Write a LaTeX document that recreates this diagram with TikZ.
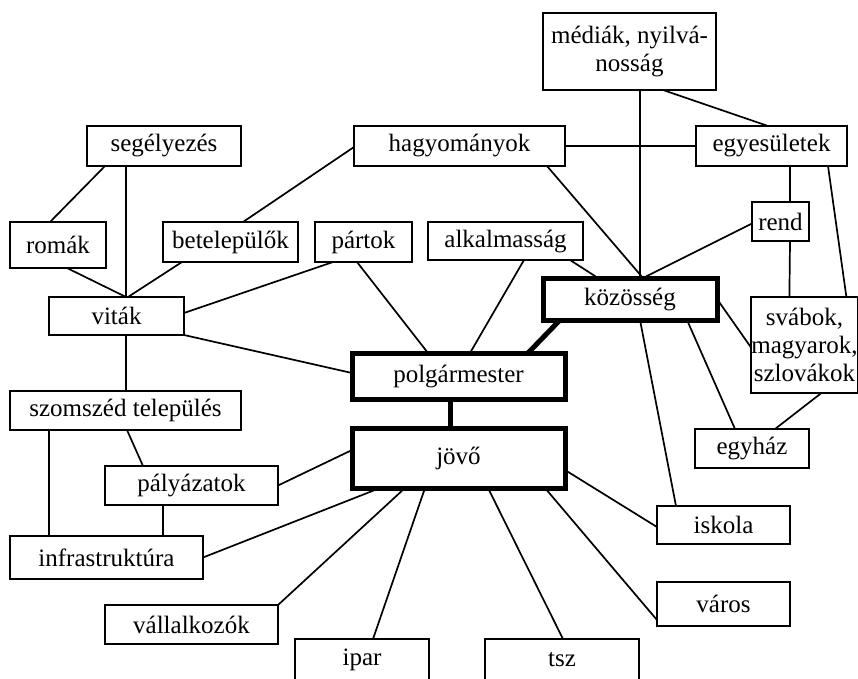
\documentclass[tikz,border=0pt]{standalone}
\usepackage{fontspec}
\setmainfont{Liberation Serif}
\usepackage{tikz}
\usetikzlibrary{positioning}

\begin{document}
\begin{tikzpicture}[x=1pt,y=-1pt]
\tikzstyle{box}=[rectangle,draw=black,line width=2pt,
inner sep=0pt,outer sep=0pt,fill=white,
font=\fontsize{25}{28}\selectfont]
\tikzstyle{core}=[box,line width=5pt]
\tikzstyle{link}=[line width=1.7pt,line cap=round]
\tikzstyle{bold}=[line width=5pt]
\useasboundingbox (0,0) rectangle (858,678);
\clip (0,0) rectangle (858,678);

\node[box,minimum width=173pt,minimum height=77pt,align=center] at (629.5,51.5) (medi) {médiák, nyilvá-\\nosság};
\node[box,minimum width=211pt,minimum height=40pt] at (459.5,146) (hagy) {hagyományok};
\node[box,minimum width=151pt,minimum height=40pt] at (771.5,146) (egye) {egyesületek};
\node[box,minimum width=154pt,minimum height=40pt] at (164,146) (sege) {segélyezés};
\node[box,minimum width=96pt,minimum height=46pt] at (58,245) (roma) {romák};
\node[box,minimum width=135pt,minimum height=40pt] at (230.5,242) (bete) {betelepülők};
\node[box,minimum width=97pt,minimum height=40pt] at (363.5,242) (part) {pártok};
\node[box,minimum width=155pt,minimum height=38pt] at (505.5,241) (alka) {alkalmasság};
\node[box,minimum width=57pt,minimum height=39pt] at (780.5,221.5) (rend) {rend};
\node[core,minimum width=174pt,minimum height=42pt] at (630,299) (kozo) {közösség};
\node[box,minimum width=105pt,minimum height=96pt,align=center] at (804.5,345) (svab) {svábok,\\magyarok,\\szlovákok};
\node[box,minimum width=135pt,minimum height=38pt] at (116.5,316) (vita) {viták};
\node[core,minimum width=213pt,minimum height=46pt] at (458.5,376) (polg) {polgármester};
\node[core,minimum width=213pt,minimum height=60pt] at (458.5,458) (jovo) {jövő};
\node[box,minimum width=231pt,minimum height=39pt] at (125.5,410.5) (szom) {szomszéd település};
\node[box,minimum width=173pt,minimum height=39pt] at (191.5,485.5) (paly) {pályázatok};
\node[box,minimum width=193pt,minimum height=43pt] at (106.5,557.5) (infr) {infrastruktúra};
\node[box,minimum width=173pt,minimum height=39pt] at (191.5,624.5) (vall) {vállalkozók};
\node[box,minimum width=134pt,minimum height=41pt,anchor=north] at (362,639) (ipar) {ipar};
\node[box,minimum width=154pt,minimum height=41pt,anchor=north] at (562,639) (tsz) {tsz};
\node[box,minimum width=114pt,minimum height=39pt] at (752,448.5) (egyh) {egyház};
\node[box,minimum width=133pt,minimum height=38pt] at (723.5,525) (isko) {iskola};
\node[box,minimum width=133pt,minimum height=44pt] at (723.5,604) (varo) {város};

\path[link] ([xshift=18pt]sege.south west) edge ([xshift=40pt]roma.north west) ;
\path[link] ([xshift=39pt]sege.south west) edge ([xshift=77pt]vita.north west) ;
\path[link] ([xshift=9pt]roma.south) edge ([xshift=77pt]vita.north west) ;
\path[link] ([xshift=19pt]bete.south west) edge ([xshift=79pt]vita.north west) ;
\path[link] ([xshift=80pt]bete.north west) edge ([yshift=-1pt]hagy.west) ;
\path[link] ([xshift=18pt]part.south west) edge ([yshift=3pt]vita.east) ;
\path[link] ([xshift=42pt]part.south west) edge ([xshift=76pt]polg.north west) ;
\path[link] (vita.south east) edge ([yshift=3pt]polg.west) ;
\path[link] ([xshift=77pt]vita.south west) edge ([xshift=116pt]szom.north west) ;
\path[link] ([xshift=96pt]alka.south west) edge ([xshift=118pt]polg.north west) ;
\path[link] ([xshift=-13pt]alka.south east) edge ([xshift=55pt]kozo.north west) ;
\path[link] ([xshift=-18pt]hagy.south east) edge ([xshift=100pt]kozo.north west) ;
\path[link] (hagy.east) edge (egye.west) ;
\path[link] ([xshift=97pt]medi.south west) edge ([xshift=97pt]kozo.north west) ;
\path[link] ([xshift=120pt]medi.south west) edge ([xshift=72pt]egye.north west) ;
\path[link] ([xshift=94pt]egye.south west) edge ([xshift=38pt]rend.north west) ;
\path[link] ([yshift=-2pt]rend.west) edge ([xshift=100pt]kozo.north west) ;
\path[link] ([xshift=38pt]rend.south west) edge ([xshift=38pt]svab.north west) ;
\path[link] ([xshift=132pt]egye.south west) edge ([xshift=95pt]svab.north west) ;
\path[link] (kozo.east) edge ([yshift=-3pt]svab.west) ;
\path[link] ([xshift=144pt]kozo.south west) edge ([xshift=40pt]egyh.north west) ;
\path[link] ([xshift=97pt]kozo.south west) edge ([xshift=19pt]isko.north west) ;
\path[link] ([xshift=70pt]svab.south west) edge ([xshift=80pt]egyh.north west) ;
\path[bold] ([xshift=17pt]kozo.south west) edge ([xshift=176pt]polg.north west) ;
\path[bold] ([xshift=98pt]polg.south west) edge ([xshift=98pt]jovo.north west) ;
\path[link] ([yshift=-22pt]jovo.north west) edge (paly.east) ;
\path[link] ([xshift=28pt]jovo.south west) edge (infr.east) ;
\path[link] ([xshift=53pt]jovo.south west) edge (vall.north east) ;
\path[link] ([xshift=73pt]jovo.south west) edge ([xshift=78pt]ipar.north west) ;
\path[link] ([xshift=136pt]jovo.south west) edge ([xshift=78pt]tsz.north west) ;
\path[link] ([xshift=193pt]jovo.south west) edge ([yshift=6pt]varo.south west) ;
\path[link] ([yshift=18pt]jovo.south east) edge ([yshift=-2pt]isko.west) ;
\path[link] ([xshift=117pt]szom.south west) edge ([xshift=38pt]paly.north west) ;
\path[link] ([xshift=39pt]szom.south west) edge ([xshift=39pt]infr.north west) ;
\path[link] ([xshift=58pt]paly.south west) edge ([xshift=153pt]infr.north west) ;

\end{tikzpicture}
\end{document}
